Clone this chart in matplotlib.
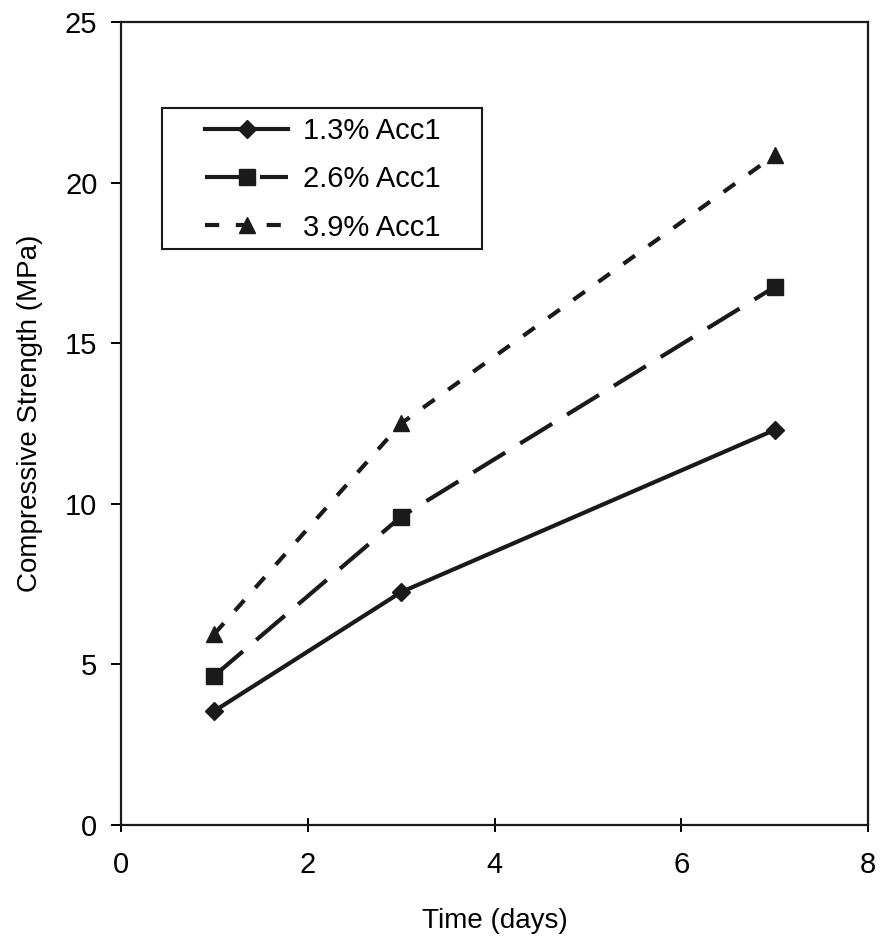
import matplotlib as mpl
mpl.use("Agg")
import matplotlib.pyplot as plt
from matplotlib.legend_handler import HandlerLine2D
from matplotlib.patches import Rectangle

days = [1, 3, 7]
acc_13 = [3.55, 7.25, 12.3]
acc_26 = [4.65, 9.6, 16.75]
acc_39 = [5.95, 12.5, 20.85]
labels = ["1.3% Acc1", "2.6% Acc1", "3.9% Acc1"]

plt.rcParams["font.family"] = ["Liberation Sans", "DejaVu Sans"]
ink = "#1a1a1a"

fig = plt.figure(figsize=(8.8, 9.36), dpi=100)
ax = fig.add_axes([0.1375, 0.1186, 0.849, 0.858])

l1, = ax.plot(days, acc_13, color=ink, lw=3, marker="D", ms=9, label=labels[0])
l2, = ax.plot(days, acc_26, color=ink, lw=3, marker="s", ms=11,
              dashes=(9, 4.2), label=labels[1])
l3, = ax.plot(days, acc_39, color=ink, lw=3, marker="^", ms=11,
              dashes=(3.4, 4), label=labels[2])

ax.set_xlim(0, 8)
ax.set_ylim(0, 25)
ax.set_xticks(range(0, 9, 2))
ax.set_yticks(range(0, 26, 5))
ax.tick_params(axis="y", labelsize=21, direction="out", length=7, width=1.4, pad=10)
ax.tick_params(axis="x", labelsize=21, direction="inout", length=10, width=1.4, pad=14)

for s in ax.spines.values():
    s.set_linewidth(1.6)
    s.set_color(ink)

ax.set_xlabel("Time (days)", fontsize=20)
ax.set_ylabel("Compressive Strength (MPa)", fontsize=20)
ax.xaxis.set_label_coords(0.5, -0.103)
ax.yaxis.set_label_coords(-0.104, 0.513)

# legend without its own frame; box drawn afterwards with wider side margins
hmap = {h: HandlerLine2D(xpad=1.0) for h in (l1, l2, l3)}
leg = ax.legend(handles=[l1, l2, l3], handler_map=hmap,
                loc="upper left", bbox_to_anchor=(0.064, 0.891), borderaxespad=0,
                fontsize=21, handlelength=3.85, handletextpad=0.5, numpoints=1,
                frameon=False, borderpad=0.25, labelspacing=0.7)

fig.canvas.draw()
bb = leg.get_window_extent(fig.canvas.get_renderer())
x0, y0, x1, y1 = bb.x0 - 7, bb.y0, bb.x1 + 34, bb.y1 + 1
inv = fig.transFigure.inverted()
(fx0, fy0), (fx1, fy1) = inv.transform([(x0, y0), (x1, y1)])
fig.add_artist(Rectangle((fx0, fy0), fx1 - fx0, fy1 - fy0, transform=fig.transFigure,
                         fill=False, edgecolor=ink, linewidth=1.5, zorder=4))

fig.savefig("out.png", dpi=100)
